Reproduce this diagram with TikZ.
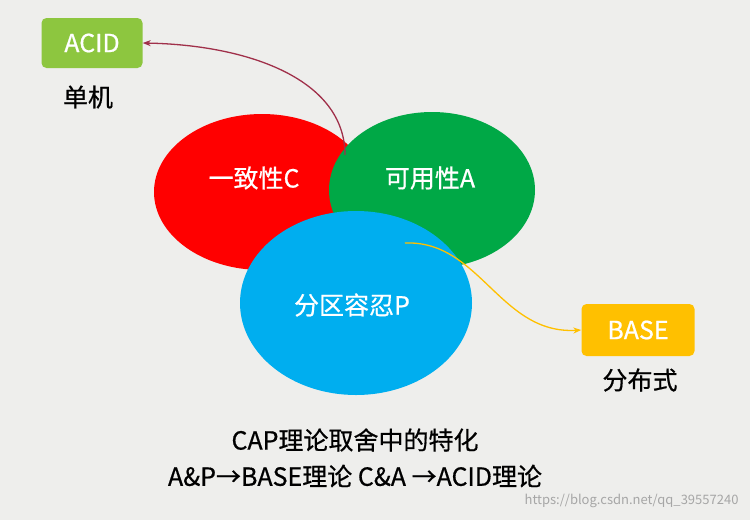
\documentclass[tikz,border=0pt]{standalone}
\usepackage{fontspec}
\setmainfont{Noto Sans CJK SC}[FakeBold=0.6]
\newfontfamily\wmfont{Noto Sans CJK SC}
\usetikzlibrary{arrows.meta}
\definecolor{bg}{HTML}{EEEEEC}
\definecolor{cred}{HTML}{FF0000}
\definecolor{cgreen}{HTML}{00A846}
\definecolor{cblue}{HTML}{00AEEF}
\definecolor{cacid}{HTML}{8DC63F}
\definecolor{cbase}{HTML}{FFC000}
\definecolor{carr}{HTML}{A0304A}
\begin{document}
\begin{tikzpicture}[x=1pt,y=-1pt,
  lab/.style={font=\fontsize{25}{29}\selectfont,text=white},
  box/.style={rounded corners=5pt,minimum width=101pt,minimum height=50pt,font=\fontsize{25}{29}\selectfont,text=white},
  captext/.style={font=\fontsize{25}{29}\selectfont}]
\fill[bg] (0,0) rectangle (750,520);
\useasboundingbox (0,0) rectangle (750,520);
\fill[cred] (262,192) ellipse [x radius=108,y radius=78];
\fill[cgreen] (432,190) ellipse [x radius=103,y radius=78];
\fill[cblue] (356,303) ellipse [x radius=116,y radius=92];
\node[lab] (c) at (254,178) {一致性C};
\node[lab] (a) at (430,178) {可用性A};
\node[lab] (p) at (352,305) {分区容忍P};
\node[box,fill=cacid] (acid) at (92,43) {ACID};
\node[captext] (acidl) at (88,97) {单机};
\node[box,fill=cbase,minimum width=113pt,minimum height=52pt] (base) at (638,330) {BASE};
\node[captext] (basel) at (640,380) {分布式};
\coordinate (s1) at (345,155);
\coordinate (s2) at (405,243);
\draw[carr,line width=1.3pt,-{Stealth[length=8pt]}] (s1) .. controls (345,80) and (250,45) .. (acid.east);
\draw[cbase,line width=1.3pt,-{Stealth[length=8pt]}] (s2) .. controls (480,240) and (500,335) .. (base.west);
\node[captext] (t1) at (355,440) {CAP理论取舍中的特化};
\node[captext] (t2) at (355,476) {A\&P→BASE理论 C\&A →ACID理论};
\node[font=\wmfont\fontsize{13}{15}\selectfont,text=gray!70,anchor=east] (w) at (742,501) {https://blog.csdn.net/qq\_39557240};
\end{tikzpicture}
\end{document}
